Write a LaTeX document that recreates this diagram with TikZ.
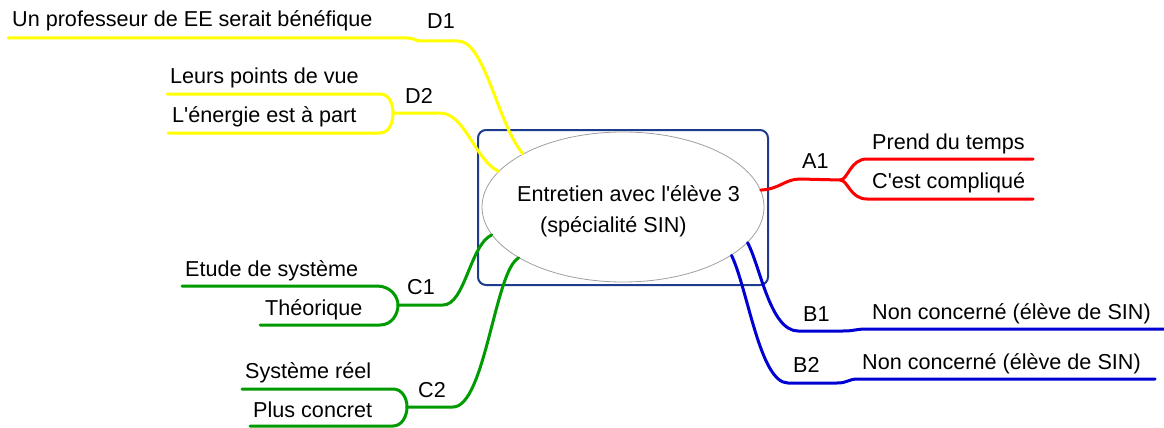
\documentclass[tikz,border=0pt]{standalone}
\usepackage{fontspec}
\setmainfont{Liberation Sans}[Ligatures=TeXOff]
\usetikzlibrary{shapes.geometric}
\definecolor{myyellow}{RGB}{255,255,0}
\definecolor{myred}{RGB}{255,0,0}
\definecolor{myblue}{RGB}{0,0,210}
\definecolor{mygreen}{RGB}{0,155,0}
\definecolor{navy}{RGB}{30,60,140}
\definecolor{egray}{RGB}{160,160,160}
\begin{document}
\begin{tikzpicture}[x=1pt,y=-1pt,
  txt/.style={anchor=base west, inner sep=0pt, font=\fontsize{21.6}{26}\selectfont, text=black},
  ylw/.style={draw=myyellow, line width=3pt, line cap=round},
  rd/.style={draw=myred, line width=3pt, line cap=round},
  bl/.style={draw=myblue, line width=3pt, line cap=round},
  gr/.style={draw=mygreen, line width=3pt, line cap=round},
  framebox/.style={draw=navy, line width=2pt, rounded corners=8pt},
  mainell/.style={ellipse, draw=egray, line width=0.8pt, fill=white, minimum width=282pt, minimum height=150pt, inner sep=0pt}
]
\useasboundingbox (0,0) rectangle (1164,428);
\fill[white] (0,0) rectangle (1164,428);

% central box and ellipse
\draw[framebox] (478,130) rectangle (768,285);
\node[mainell] (ctr) at (623,207) {};
\node[txt] (ct1) at (517,201) {Entretien avec l'élève 3};
\node[txt] (ct2) at (540,232) {(spécialité SIN)};

% texts
\node[txt] (d1t) at (12,27) {Un professeur de EE serait bénéfique};
\node[txt] (d1) at (427,29) {D1};
\node[txt] (d2a) at (170,83) {Leurs points de vue};
\node[txt] (d2b) at (172,122) {L'énergie est à part};
\node[txt] (d2) at (405,103) {D2};
\node[txt] (a1) at (802,168) {A1};
\node[txt] (a1a) at (872,149) {Prend du temps};
\node[txt] (a1b) at (872,188) {C'est compliqué};
\node[txt] (b1) at (803,321) {B1};
\node[txt] (b1t) at (872,319) {Non concerné (élève de SIN)};
\node[txt] (b2) at (793,372) {B2};
\node[txt] (b2t) at (862,369) {Non concerné (élève de SIN)};
\node[txt] (c1a) at (185,276) {Etude de système};
\node[txt] (c1b) at (265,315) {Théorique};
\node[txt] (c1) at (407,294) {C1};
\node[txt] (c2a) at (245,378) {Système réel};
\node[txt] (c2b) at (253,417) {Plus concret};
\node[txt] (c2) at (418,397) {C2};

% junction / line-end coordinates
\coordinate (d1s) at (8,38);
\coordinate (d1m) at (407,38);
\coordinate (d1n) at (422,41);
\coordinate (d1h) at (458,41);
\coordinate (d2j) at (393,113);
\coordinate (d2h) at (440,113);
\coordinate (d2as) at (167,94);
\coordinate (d2ae) at (380,94);
\coordinate (d2bs) at (168,133);
\coordinate (d2be) at (380,133);

\coordinate (a1m) at (800,179);
\coordinate (a1j) at (840,180);
\coordinate (a1au) at (867,159);
\coordinate (a1ae) at (1033,159);
\coordinate (a1bu) at (867,199);
\coordinate (a1be) at (1033,199);

\coordinate (b1c) at (798,331);
\coordinate (b1m) at (843,331);
\coordinate (b1n) at (867,329);
\coordinate (b1e) at (1164,329);
\coordinate (b2c) at (788,383);
\coordinate (b2m) at (837,383);
\coordinate (b2n) at (858,379);
\coordinate (b2e) at (1155,379);

\coordinate (c1j) at (398,305);
\coordinate (c1h) at (443,305);
\coordinate (c1as) at (182,286);
\coordinate (c1ae) at (377,286);
\coordinate (c1bs) at (260,325);
\coordinate (c1be) at (380,325);
\coordinate (c2j) at (407,407);
\coordinate (c2h) at (453,407);
\coordinate (c2as) at (242,389);
\coordinate (c2ae) at (393,389);
\coordinate (c2bs) at (250,426);
\coordinate (c2be) at (393,426);

% yellow D
\draw[ylw] (d1s) -- (d1m) .. controls (415,38) and (414,41) .. (d1n) -- (d1h)
  .. controls (485,41) and (498,125) .. (ctr.152);
\draw[ylw] (d2as) -- (d2ae) .. controls (390,94) and (393,105) .. (d2j);
\draw[ylw] (d2bs) -- (d2be) .. controls (390,133) and (393,121) .. (d2j);
\draw[ylw] (d2j) -- (d2h) .. controls (465,113) and (475,160) .. (ctr.164);

% red A
\draw[rd] (ctr.7) .. controls (780,189) and (785,179) .. (a1m) -- (a1j);
\draw[rd] (a1j) .. controls (848,180) and (850,159) .. (a1au) -- (a1ae);
\draw[rd] (a1j) .. controls (848,180) and (850,199) .. (a1bu) -- (a1be);

% blue B
\draw[bl] (ctr.344) .. controls (760,265) and (770,331) .. (b1c) -- (b1m)
  .. controls (855,331) and (855,329) .. (b1n) -- (b1e);
\draw[bl] (ctr.336) .. controls (748,290) and (760,383) .. (b2c) -- (b2m)
  .. controls (848,383) and (848,379) .. (b2n) -- (b2e);

% green C
\draw[gr] (c1as) -- (c1ae) .. controls (390,286) and (398,296) .. (c1j);
\draw[gr] (c1bs) -- (c1be) .. controls (392,325) and (398,314) .. (c1j);
\draw[gr] (c1j) -- (c1h) .. controls (465,305) and (470,245) .. (ctr.192);
\draw[gr] (c2as) -- (c2ae) .. controls (402,389) and (407,398) .. (c2j);
\draw[gr] (c2bs) -- (c2be) .. controls (402,426) and (407,416) .. (c2j);
\draw[gr] (c2j) -- (c2h) .. controls (485,407) and (495,270) .. (ctr.206);
\end{tikzpicture}
\end{document}
